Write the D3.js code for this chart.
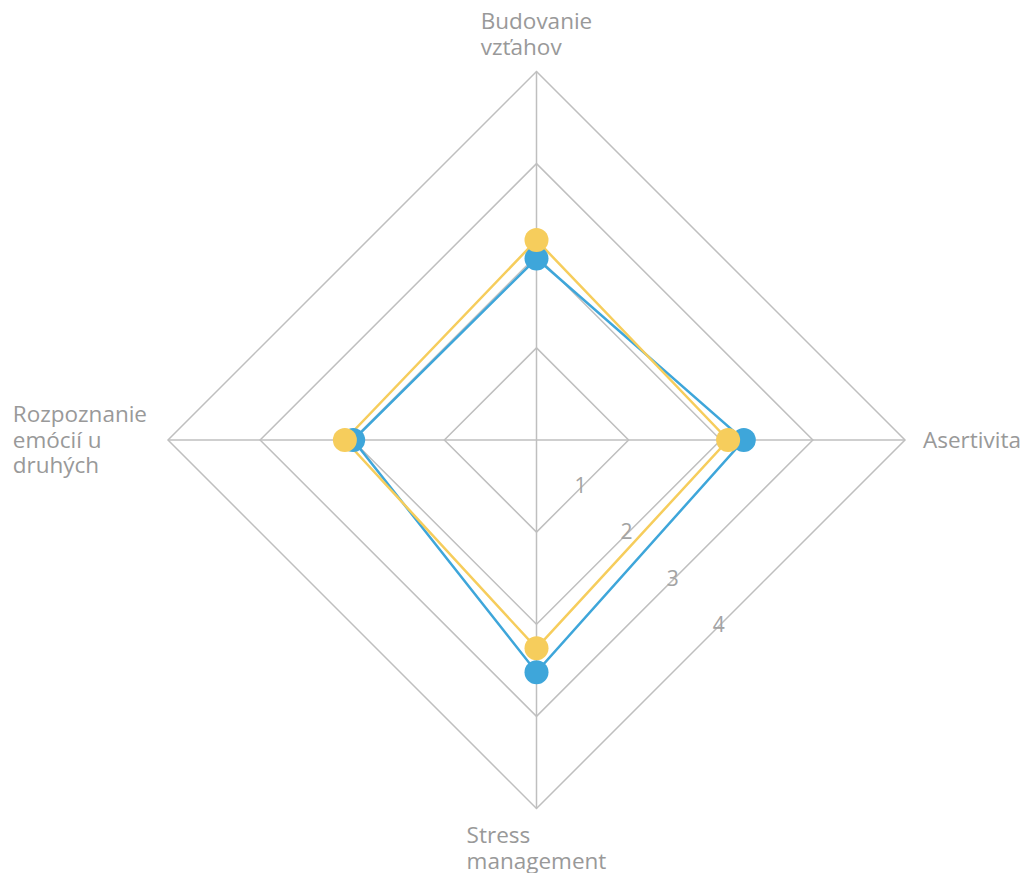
<!DOCTYPE html>
<html>
<head>
<meta charset="utf-8">
<script src="https://cdn.jsdelivr.net/npm/d3@7"></script>
<style>
  body { margin: 0; background: #fff; }
  svg text { font-family: "Open Sans", "Noto Sans", sans-serif; fill: #999; }
</style>
</head>
<body>
<svg id="chart" width="1028" height="873"></svg>
<script>
// axis labels, clockwise from top
var axes = [['Budovanie', 'vzťahov'], ['Asertivita'], ['Stress', 'management'], ['Rozpoznanie', 'emócií u', 'druhých']]
var ticks = [1, 2, 3, 4]
var seriesBlue = [1.97, 2.25, 2.52, 1.99]
var seriesYellow = [2.17, 2.08, 2.26, 2.08]
var series = [
  { name: 'blue', color: '#3ea6da', values: seriesBlue },
  { name: 'yellow', color: '#f6cd5c', values: seriesYellow }
]

var cx = 536.5
var cy = 440
var radius = 368.5
var svg = d3.select('#chart')
var g = svg.append('g').attr('transform', 'translate(' + cx + ',' + cy + ')')

var r = d3.scaleLinear().domain([0, 4]).range([0, radius])
var angle = function (i) { return i * 2 * Math.PI / axes.length }
function pt (i, v) {
  return [Math.sin(angle(i)) * r(v), -Math.cos(angle(i)) * r(v)]
}

// rings
g.selectAll('.ring')
  .data(ticks)
  .enter()
  .append('polygon')
  .attr('points', function (t) { return axes.map(function (a, i) { return pt(i, t).join(',') }).join(' ') })
  .attr('fill', 'none')
  .attr('stroke', '#bfbfbf')
  .attr('stroke-width', 1.5)

// spokes
g.selectAll('.spoke')
  .data(axes)
  .enter()
  .append('line')
  .attr('x1', 0).attr('y1', 0)
  .attr('x2', function (a, i) { return pt(i, 4)[0] })
  .attr('y2', function (a, i) { return pt(i, 4)[1] })
  .attr('stroke', '#bfbfbf')
  .attr('stroke-width', 1.5)

// tick labels sit on the middle of the bottom-right edge of each ring
g.selectAll('.tick')
  .data(ticks)
  .enter()
  .append('text')
  .attr('x', function (t) { return (pt(1, t)[0] + pt(2, t)[0]) / 2 - 2 })
  .attr('y', function (t) { return (pt(1, t)[1] + pt(2, t)[1]) / 2 })
  .attr('dy', '0.35em')
  .attr('text-anchor', 'middle')
  .style('font-size', '21px')
  .style('fill', '#a3a3a3')
  .text(function (t) { return t })

// data
var line = d3.line().curve(d3.curveLinearClosed)
series.forEach(function (s) {
  var pts = s.values.map(function (v, i) { return pt(i, v) })
  g.append('path')
    .attr('d', line(pts))
    .attr('fill', 'none')
    .attr('stroke', s.color)
    .attr('stroke-width', 2.5)
})
series.forEach(function (s) {
  g.selectAll('.dot-' + s.name)
    .data(s.values)
    .enter()
    .append('circle')
    .attr('cx', function (v, i) { return pt(i, v)[0] })
    .attr('cy', function (v, i) { return pt(i, v)[1] })
    .attr('r', 12)
    .attr('fill', s.color)
})

// axis labels: block of left-aligned lines placed outside each apex
var lineH = 25.5
var fontSize = 22.5
axes.forEach(function (lines, i) {
  var tg = g.append('g')
  var texts = lines.map(function (l, k) {
    return tg.append('text').style('font-size', fontSize + 'px').attr('dy', '0.35em').text(l)
  })
  var w = d3.max(texts, function (t) { return t.node().getComputedTextLength() })
  var h = lines.length * lineH
  var apex = pt(i, 4)
  var x0, y0
  if (i === 0) { x0 = apex[0] - w / 2; y0 = apex[1] - 12 - h }
  if (i === 1) { x0 = apex[0] + 18; y0 = apex[1] - h / 2 }
  if (i === 2) { x0 = apex[0] - w / 2; y0 = apex[1] + 14 }
  if (i === 3) { x0 = apex[0] - 21 - w; y0 = apex[1] - h / 2 }
  texts.forEach(function (t, k) {
    t.attr('x', x0).attr('y', y0 + lineH * (k + 0.5))
  })
})
</script>
</body>
</html>
